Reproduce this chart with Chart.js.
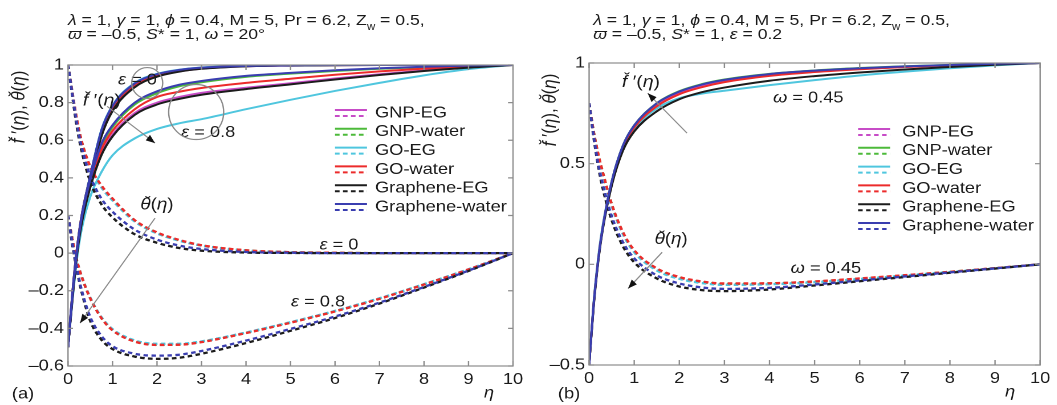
<!DOCTYPE html>
<html><head><meta charset="utf-8">
<script src="https://cdn.jsdelivr.net/npm/chart.js@4.4.1/dist/chart.umd.min.js"></script>
<style>
html,body{margin:0;padding:0;background:#fff;overflow:hidden;width:1057px;height:405px;}
#wrap{position:absolute;left:0;top:0;width:927.2px;height:405px;transform:scaleX(1.14);transform-origin:0 0;}
canvas{position:absolute;top:0;}
.hdr{position:absolute;font-family:"Liberation Sans",Arial,sans-serif;font-size:15.5px;line-height:17px;color:#1a1a1a;white-space:nowrap;}
.hdr i{font-style:italic;}
.sub{font-size:10px;position:relative;top:5px;}
</style></head><body>
<div id="wrap">
<canvas id="c1" width="465" height="405" style="left:0;width:465px;height:405px"></canvas>
<canvas id="c2" width="462" height="405" style="left:465px;width:462px;height:405px"></canvas>
<div class="hdr" style="left:59.6px;top:11px"><i>λ</i> = 1, <i>γ</i> = 1, <i>ϕ</i> = 0.4, M = 5, Pr = 6.2, Z<span class="sub">w</span> = 0.5,</div>
<div class="hdr" style="left:59.6px;top:25px"><i>ϖ</i> = –0.5, <i>S</i>* = 1, <i>ω</i> = 20°</div>
<div class="hdr" style="left:55.3px;top:11px;margin-left:465px"><i>λ</i> = 1, <i>γ</i> = 1, <i>ϕ</i> = 0.4, M = 5, Pr = 6.2, Z<span class="sub">w</span> = 0.5,</div>
<div class="hdr" style="left:55.3px;top:25px;margin-left:465px"><i>ϖ</i> = –0.5, <i>S</i>* = 1, <i>ε</i> = 0.2</div>
</div>
<script>
// ---------------- DATA ----------------
const eta = [0,0.1,0.2,0.3,0.5,0.75,1,1.5,2,2.5,3,4,5,6,7,8,9,10];
const names = ['GNP-EG','GNP-water','GO-EG','GO-water','Graphene-EG','Graphene-water'];
const xTickVals = [0,1,2,3,4,5,6,7,8,9,10];
const yTicksA = [-0.6,-0.4,-0.2,0,0.2,0.4,0.6,0.8,1];
const yTicksB = [-0.5,0,0.5,1];

// panel (a): f'(eta), epsilon = 0
const fA0_GNPEG = [-0.5,-0.23,0.00,0.17,0.39,0.625,0.76,0.885,0.94,0.966,0.981,0.993,0.997,0.999,1,1,1,1];
const fA0_GNPW  = [-0.5,-0.21,0.02,0.19,0.41,0.65,0.78,0.9,0.95,0.973,0.985,0.995,0.998,1,1,1,1,1];
const fA0_GOEG  = [-0.5,-0.22,0.01,0.18,0.41,0.655,0.785,0.905,0.953,0.975,0.987,0.996,0.999,1,1,1,1,1];
const fA0_GOW   = [-0.5,-0.21,0.02,0.19,0.405,0.645,0.775,0.895,0.947,0.971,0.984,0.995,0.998,1,1,1,1,1];
const fA0_GREG  = [-0.5,-0.23,0.00,0.17,0.385,0.62,0.755,0.882,0.938,0.965,0.98,0.993,0.997,0.999,1,1,1,1];
const fA0_GRW   = [-0.5,-0.21,0.02,0.19,0.41,0.652,0.782,0.902,0.951,0.974,0.986,0.995,0.998,1,1,1,1,1];
// panel (a): f'(eta), epsilon = 0.8
const fA8_GNPEG = [-0.5,-0.24,-0.01,0.15,0.355,0.53,0.63,0.745,0.8,0.83,0.852,0.879,0.903,0.928,0.951,0.971,0.988,1];
const fA8_GNPW  = [-0.5,-0.22,0.01,0.18,0.385,0.57,0.67,0.79,0.85,0.887,0.908,0.937,0.954,0.968,0.98,0.989,0.996,1];
const fA8_GOEG  = [-0.5,-0.25,-0.03,0.12,0.3,0.43,0.52,0.61,0.66,0.69,0.712,0.765,0.815,0.862,0.905,0.945,0.978,1];
const fA8_GOW   = [-0.5,-0.23,0.0,0.16,0.37,0.55,0.65,0.765,0.83,0.858,0.878,0.905,0.927,0.948,0.966,0.981,0.993,1];
const fA8_GREG  = [-0.5,-0.24,-0.01,0.15,0.35,0.52,0.62,0.735,0.79,0.82,0.842,0.872,0.897,0.923,0.947,0.968,0.986,1];
const fA8_GRW   = [-0.5,-0.22,0.01,0.18,0.39,0.58,0.68,0.8,0.86,0.895,0.915,0.942,0.958,0.972,0.983,0.991,0.997,1];
// panel (a): theta(eta), epsilon = 0
const tA0_GNPEG = [1,0.85,0.705,0.597,0.456,0.352,0.282,0.17,0.106,0.067,0.04,0.014,0.005,0.001,0,0,0,0];
const tA0_GNPW  = [1,0.85,0.707,0.6,0.458,0.355,0.285,0.172,0.108,0.068,0.041,0.015,0.005,0.002,0,0,0,0];
const tA0_GOEG  = [1,0.85,0.705,0.595,0.455,0.35,0.28,0.168,0.105,0.066,0.04,0.014,0.005,0.001,0,0,0,0];
const tA0_GOW   = [1,0.85,0.71,0.6,0.46,0.36,0.29,0.175,0.11,0.07,0.042,0.015,0.005,0.002,0,0,0,0];
const tA0_GREG  = [1,0.83,0.67,0.55,0.38,0.26,0.19,0.1,0.055,0.027,0.013,0.003,0.001,0,0,0,0,0];
const tA0_GRW   = [1,0.84,0.69,0.57,0.41,0.29,0.22,0.125,0.072,0.04,0.022,0.006,0.002,0,0,0,0,0];
// panel (a): theta(eta), epsilon = 0.8
const tA8_GNPEG = [0.2,0.07,-0.04,-0.12,-0.24,-0.343,-0.408,-0.468,-0.486,-0.485,-0.471,-0.423,-0.368,-0.308,-0.241,-0.166,-0.086,0];
const tA8_GNPW  = [0.2,0.07,-0.04,-0.12,-0.24,-0.344,-0.409,-0.469,-0.487,-0.486,-0.472,-0.424,-0.369,-0.309,-0.242,-0.166,-0.087,0];
const tA8_GOEG  = [0.2,0.07,-0.04,-0.118,-0.236,-0.34,-0.404,-0.464,-0.482,-0.482,-0.469,-0.422,-0.367,-0.307,-0.24,-0.165,-0.086,0];
const tA8_GOW   = [0.2,0.07,-0.04,-0.12,-0.24,-0.345,-0.41,-0.47,-0.488,-0.487,-0.473,-0.425,-0.37,-0.31,-0.243,-0.167,-0.087,0];
const tA8_GREG  = [0.2,0.04,-0.09,-0.2,-0.36,-0.46,-0.51,-0.55,-0.562,-0.556,-0.535,-0.478,-0.413,-0.345,-0.268,-0.183,-0.095,0];
const tA8_GRW   = [0.2,0.05,-0.08,-0.19,-0.34,-0.44,-0.495,-0.535,-0.545,-0.54,-0.52,-0.465,-0.403,-0.337,-0.263,-0.18,-0.093,0];

// panel (b): f'(eta)
const fB_GNPEG = [-0.5,-0.2,0.02,0.18,0.405,0.585,0.68,0.79,0.85,0.886,0.91,0.94,0.958,0.971,0.981,0.989,0.995,1];
const fB_GNPW  = [-0.5,-0.2,0.02,0.18,0.41,0.59,0.69,0.8,0.86,0.895,0.918,0.946,0.963,0.975,0.984,0.991,0.996,1];
const fB_GOEG  = [-0.5,-0.19,0.03,0.19,0.41,0.585,0.675,0.775,0.825,0.848,0.862,0.89,0.915,0.938,0.957,0.974,0.988,1];
const fB_GOW   = [-0.5,-0.2,0.02,0.18,0.405,0.583,0.68,0.785,0.845,0.88,0.905,0.936,0.955,0.969,0.98,0.989,0.995,1];
const fB_GREG  = [-0.5,-0.21,0.01,0.17,0.39,0.565,0.66,0.76,0.82,0.855,0.878,0.912,0.935,0.953,0.968,0.98,0.991,1];
const fB_GRW   = [-0.5,-0.2,0.02,0.18,0.41,0.59,0.69,0.8,0.858,0.893,0.916,0.945,0.962,0.974,0.983,0.99,0.996,1];
// panel (b): theta(eta)
const tB_GNPEG = [0.8,0.655,0.545,0.455,0.295,0.155,0.065,-0.025,-0.068,-0.09,-0.099,-0.097,-0.087,-0.072,-0.055,-0.038,-0.019,0];
const tB_GNPW  = [0.8,0.66,0.55,0.46,0.3,0.158,0.068,-0.022,-0.065,-0.087,-0.097,-0.095,-0.086,-0.071,-0.055,-0.037,-0.019,0];
const tB_GOEG  = [0.8,0.655,0.54,0.45,0.29,0.15,0.06,-0.03,-0.072,-0.093,-0.102,-0.099,-0.089,-0.073,-0.056,-0.038,-0.02,0];
const tB_GOW   = [0.8,0.66,0.55,0.46,0.3,0.16,0.07,-0.02,-0.063,-0.085,-0.095,-0.094,-0.085,-0.07,-0.054,-0.037,-0.019,0];
const tB_GREG  = [0.8,0.63,0.49,0.38,0.22,0.09,0.01,-0.07,-0.11,-0.128,-0.133,-0.125,-0.105,-0.084,-0.063,-0.042,-0.021,0];
const tB_GRW   = [0.8,0.64,0.5,0.4,0.24,0.11,0.03,-0.055,-0.095,-0.115,-0.122,-0.117,-0.1,-0.08,-0.06,-0.04,-0.02,0];

// ---------------- STYLE ----------------
const colors = ['#c74cc7','#4cba3a','#4fc6de','#ec2b2b','#1c1c1c','#3a3eb0'];
const SX = 1.14;
const FONT = '"Liberation Sans", Arial, sans-serif';
const DASH = [4,3];

const fA0 = [fA0_GNPEG,fA0_GNPW,fA0_GOEG,fA0_GOW,fA0_GREG,fA0_GRW];
const fA8 = [fA8_GNPEG,fA8_GNPW,fA8_GOEG,fA8_GOW,fA8_GREG,fA8_GRW];
const tA0 = [tA0_GNPEG,tA0_GNPW,tA0_GOEG,tA0_GOW,tA0_GREG,tA0_GRW];
const tA8 = [tA8_GNPEG,tA8_GNPW,tA8_GOEG,tA8_GOW,tA8_GREG,tA8_GRW];
const fB = [fB_GNPEG,fB_GNPW,fB_GOEG,fB_GOW,fB_GREG,fB_GRW];
const tB = [tB_GNPEG,tB_GNPW,tB_GOEG,tB_GOW,tB_GREG,tB_GRW];

function pts(arr){ return eta.map((e,i)=>({x:e,y:arr[i]})); }
function ds(label, arr, color, dashed){
  return {label, data: pts(arr), borderColor: color, backgroundColor: color,
    borderWidth: dashed ? 2.3 : 2, borderDash: dashed ? DASH : [], pointRadius: 0,
    cubicInterpolationMode: 'monotone', fill: false};
}
function buildSets(solidGroups, dashGroups){
  const out = [];
  for (let i = 0; i < names.length; i++){
    solidGroups.forEach(g => out.push(ds(names[i], g[i], colors[i], false)));
    dashGroups.forEach(g => out.push(ds(names[i], g[i], colors[i], true)));
  }
  return out.reverse();
}

function fmt(v){ const r = Math.round(v*10)/10; return (r<0?'\u2013':'') + String(Math.abs(r)); }

// runs: [text, italic, breve]
function rich(ctx, x, y, runs, size, align){
  const fonts = runs.map(r => (r[1]?'italic ':'') + size + 'px ' + FONT);
  let w = 0;
  runs.forEach((r,i)=>{ ctx.font = fonts[i]; w += ctx.measureText(r[0]).width; });
  let cx = align==='left' ? x : (align==='right' ? x-w : x-w/2);
  ctx.textBaseline = 'middle'; ctx.textAlign = 'left';
  runs.forEach((r,i)=>{
    ctx.font = fonts[i];
    const tw = ctx.measureText(r[0]).width;
    ctx.fillText(r[0], cx, y);
    if (r[2]) {
      ctx.save();
      ctx.font = (size*0.85) + 'px ' + FONT;
      ctx.textAlign = 'center';
      ctx.fillText('\u02D8', cx + tw*0.5 + size*0.14, y - size*0.17);
      ctx.restore();
    }
    cx += tw;
  });
}
function arrow(ctx, x1, y1, x2, y2){
  ctx.save();
  ctx.strokeStyle = '#8a8a8a'; ctx.lineWidth = 1.1; ctx.setLineDash([]);
  ctx.beginPath(); ctx.moveTo(x1,y1); ctx.lineTo(x2,y2); ctx.stroke();
  const dx = (x2-x1)*SX, dy = (y2-y1); const L = Math.hypot(dx,dy);
  const ux = dx/L, uy = dy/L; const hl = 9, hw = 3.5;
  const bx = -ux*hl, by = -uy*hl;
  const p1 = [ (bx - uy*hw)/SX, by + ux*hw ];
  const p2 = [ (bx + uy*hw)/SX, by - ux*hw ];
  ctx.fillStyle = '#111';
  ctx.beginPath(); ctx.moveTo(x2,y2); ctx.lineTo(x2+p1[0], y2+p1[1]); ctx.lineTo(x2+p2[0], y2+p2[1]); ctx.closePath(); ctx.fill();
  ctx.restore();
}
function circ(ctx, cx, cy, r){
  ctx.save(); ctx.strokeStyle = '#8a8a8a'; ctx.lineWidth = 1.2; ctx.setLineDash([]);
  ctx.beginPath(); ctx.ellipse(cx, cy, r/SX, r, 0, 0, Math.PI*2); ctx.stroke(); ctx.restore();
}

const EPS = 'ε', OM = 'ω';
const FPRIME = [['f', true, true], [' ′(', false], ['η', true], [')', false]];
const THETA = [['θ', true, true], ['(', false], ['η', true], [')', false]];

function makeOverlay(cfg){
  return {
    id: 'overlay',
    afterDraw(chart){
      const ctx = chart.ctx, a = chart.chartArea, xs = chart.scales.x, ys = chart.scales.y;
      const X = v => xs.getPixelForValue(v), Y = v => ys.getPixelForValue(v);
      ctx.save();
      ctx.strokeStyle = '#8c8c8c'; ctx.lineWidth = 1.2; ctx.setLineDash([]);
      ctx.strokeRect(a.left, a.top, a.right-a.left, a.bottom-a.top);
      ctx.beginPath();
      xs.ticks.forEach(t => { const px = X(t.value);
        ctx.moveTo(px, a.bottom); ctx.lineTo(px, a.bottom-5);
        ctx.moveTo(px, a.top); ctx.lineTo(px, a.top+5); });
      ys.ticks.forEach(t => { const py = Y(t.value);
        ctx.moveTo(a.left, py); ctx.lineTo(a.left+5/SX, py);
        ctx.moveTo(a.right, py); ctx.lineTo(a.right-5/SX, py); });
      ctx.stroke();
      ctx.fillStyle = '#1a1a1a';
      rich(ctx, cfg.panelLabel[0], cfg.panelLabel[1], [[cfg.panelLabel[2], false]], 16, 'center');
      rich(ctx, cfg.etaLabel[0], cfg.etaLabel[1], [['η', true]], 16, 'center');
      ctx.save();
      ctx.translate(cfg.yTitle[0], cfg.yTitle[1]); ctx.rotate(-Math.PI/2);
      rich(ctx, 0, 0, FPRIME.slice(0,3).concat([['), ', false]], THETA), 17, 'center');
      ctx.restore();
      cfg.texts.forEach(t => rich(ctx, X(t[0]), Y(t[1]), t[2], t[3] || 16, 'center'));
      cfg.circles.forEach(c => circ(ctx, X(c[0]), Y(c[1]), c[2]));
      cfg.arrows.forEach(r => arrow(ctx, X(r[0]), Y(r[1]), X(r[2]), Y(r[3])));
      const L = cfg.legend;
      names.forEach((n, i) => {
        const y = L.y0 + i*L.dy;
        ctx.strokeStyle = colors[i]; ctx.lineWidth = 2;
        ctx.setLineDash([]); ctx.beginPath(); ctx.moveTo(L.x1, y-3); ctx.lineTo(L.x2, y-3); ctx.stroke();
        ctx.setLineDash(DASH); ctx.beginPath(); ctx.moveTo(L.x1, y+3); ctx.lineTo(L.x2, y+3); ctx.stroke();
        ctx.setLineDash([]);
        ctx.fillStyle = '#1a1a1a';
        rich(ctx, L.tx, y, [[n, false]], 16, 'left');
      });
      ctx.restore();
    }
  };
}

function makeChart(id, sets, yTicks, area, canvasW, overlayCfg){
  return new Chart(document.getElementById(id), {
    type: 'line',
    data: { datasets: sets },
    options: {
      responsive: false, animation: false, devicePixelRatio: 2,
      layout: { padding: { left: 0, top: area.top, right: canvasW - area.right, bottom: 0 } },
      plugins: { legend: { display: false }, tooltip: { enabled: false } },
      scales: {
        x: { type: 'linear', min: 0, max: 10,
          afterBuildTicks: s => { s.ticks = xTickVals.map(v => ({value: v})); },
          afterFit: s => { s.height = 405 - area.bottom; },
          grid: { display: false, drawTicks: false }, border: { display: false },
          ticks: { font: { size: 16, family: FONT }, color: '#1a1a1a', padding: 4, maxRotation: 0, autoSkip: false,
                   callback: v => fmt(v) } },
        y: { type: 'linear', min: yTicks[0], max: yTicks[yTicks.length-1],
          afterBuildTicks: s => { s.ticks = yTicks.map(v => ({value: v})); },
          afterFit: s => { s.width = area.left; },
          grid: { display: false, drawTicks: false }, border: { display: false },
          ticks: { font: { size: 16, family: FONT }, color: '#1a1a1a', padding: 3.5, autoSkip: false,
                   callback: v => fmt(v) } }
      }
    },
    plugins: [makeOverlay(overlayCfg)]
  });
}

// Panel (a)
makeChart('c1', buildSets([fA0, fA8], [tA0, tA8]), yTicksA,
  { left: 68/SX, right: 513/SX, top: 65, bottom: 366 }, 465, {
    panelLabel: [23/SX, 394, '(a)'], etaLabel: [489/SX, 393], yTitle: [19/SX, 107],
    texts: [
      [1.56, 0.92, [[EPS, true], [' = 0', false]]],
      [0.76, 0.81, FPRIME, 17],
      [3.15, 0.64, [[EPS, true], [' = 0.8', false]]],
      [2.0, 0.255, THETA, 16.5],
      [6.09, 0.043, [[EPS, true], [' = 0', false]]],
      [5.62, -0.26, [[EPS, true], [' = 0.8', false]]]
    ],
    circles: [[1.78, 0.904, 15.5], [2.88, 0.75, 27.5]],
    arrows: [[0.88, 0.78, 1.955, 0.585], [1.955, 0.186, 0.27, -0.372]],
    legend: { x1: 335/SX, x2: 367/SX, tx: 375/SX, y0: 113, dy: 18.8 }
  });

// Panel (b)
makeChart('c2', buildSets([fB], [tB]), yTicksB,
  { left: 59/SX, right: 510/SX, top: 63, bottom: 365 }, 462, {
    panelLabel: [39/SX, 394, '(b)'], etaLabel: [480/SX, 392], yTitle: [20/SX, 110],
    texts: [
      [1.15, 0.905, FPRIME, 17],
      [4.86, 0.826, [[OM, true], [' = 0.45', false]]],
      [1.82, 0.124, THETA, 16.5],
      [5.25, -0.02, [[OM, true], [' = 0.45', false]]]
    ],
    circles: [],
    arrows: [[2.17, 0.652, 1.3, 0.85], [1.62, 0.06, 0.865, -0.12]],
    legend: { x1: 328/SX, x2: 360/SX, tx: 372/SX, y0: 132, dy: 18.8 }
  });
</script>
</body></html>
